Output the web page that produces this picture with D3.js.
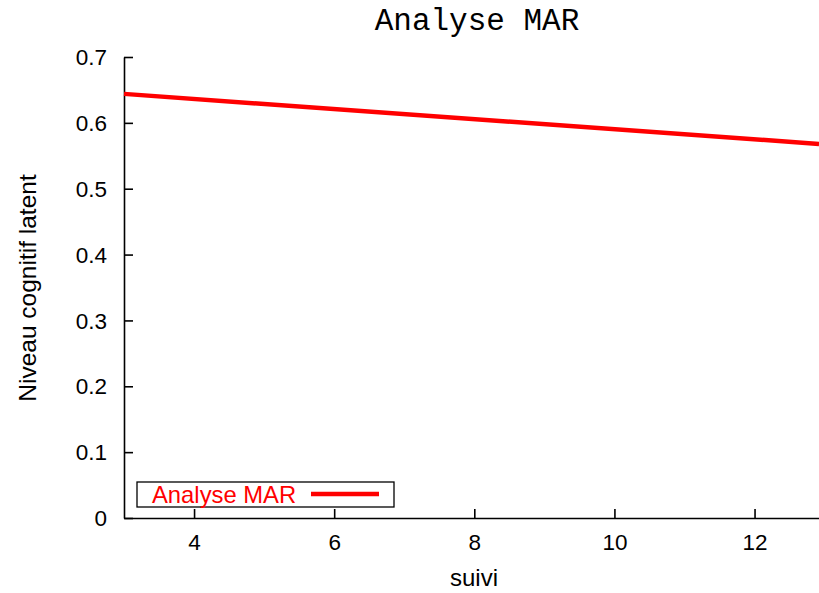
<!DOCTYPE html>
<html>
<head>
<meta charset="utf-8">
<script src="https://cdn.jsdelivr.net/npm/d3@7"></script>
<style>
  body { margin: 0; background: #fff; }
  svg { display: block; }
</style>
</head>
<body>
<svg id="chart" width="819" height="593"></svg>
<script>
// data
const suivi = [3, 12.92];
const niveau = [0.644, 0.568];
const yTicks = [0, 0.1, 0.2, 0.3, 0.4, 0.5, 0.6, 0.7];
const xTicks = [4, 6, 8, 10, 12];
const seriesName = "Analyse MAR";

const svg = d3.select("#chart");
const width = 819, height = 593;
const margin = { left: 124, right: 0, top: 57, bottom: 75 };

const x = d3.scaleLinear().domain([3, 12.92]).range([margin.left, width - margin.right]);
const y = d3.scaleLinear().domain([0, 0.7]).range([height - margin.bottom, margin.top]);

const font = "'Liberation Sans', Arial, sans-serif";
const fs = 22.5;

// y axis
const yAxis = svg.append("g")
    .attr("transform", `translate(${margin.left},0)`)
    .call(d3.axisLeft(y).tickValues(yTicks).tickSizeInner(-9).tickSizeOuter(0)
        .tickFormat(d => d === 0 ? "0" : d3.format(".1f")(d)));
yAxis.select(".domain").attr("stroke-width", 1.6);
yAxis.selectAll(".tick line").attr("stroke-width", 1.6);
yAxis.selectAll("text")
    .attr("x", -17).attr("dy", "0.34em")
    .attr("font-family", font).attr("font-size", fs).attr("fill", "#000");

// x axis
const xAxis = svg.append("g")
    .attr("transform", `translate(0,${height - margin.bottom})`)
    .call(d3.axisBottom(x).tickValues(xTicks).tickSizeInner(-9).tickSizeOuter(0));
xAxis.select(".domain").attr("stroke-width", 1.6);
xAxis.selectAll(".tick line").attr("stroke-width", 1.6);
xAxis.selectAll("text")
    .attr("y", 32).attr("dy", 0)
    .attr("font-family", font).attr("font-size", fs).attr("fill", "#000");

// line
const pts = suivi.map((s, i) => [s, niveau[i]]);
svg.append("path")
    .datum(pts)
    .attr("fill", "none")
    .attr("stroke", "#ff0000")
    .attr("stroke-width", 4.5)
    .attr("d", d3.line().x(d => x(d[0])).y(d => y(d[1])));

// title
svg.append("text")
    .attr("x", 477).attr("y", 30)
    .attr("text-anchor", "middle")
    .attr("font-family", "'Liberation Mono', 'Courier New', monospace")
    .attr("font-size", 31)
    .text(seriesName);

// axis labels
svg.append("text")
    .attr("x", 474).attr("y", 586)
    .attr("text-anchor", "middle")
    .attr("font-family", font).attr("font-size", 24)
    .text("suivi");

svg.append("text")
    .attr("transform", "translate(36,288) rotate(-90)")
    .attr("text-anchor", "middle")
    .attr("font-family", font).attr("font-size", 24.5)
    .text("Niveau cognitif latent");

// legend
const lg = svg.append("g");
lg.append("rect")
    .attr("x", 137).attr("y", 482).attr("width", 257).attr("height", 25)
    .attr("fill", "#fff").attr("stroke", "#000").attr("stroke-width", 1.3);
lg.append("text")
    .attr("x", 152).attr("y", 502.5)
    .attr("font-family", font).attr("font-size", 23.8)
    .attr("fill", "#ff0000")
    .text(seriesName);
lg.append("line")
    .attr("x1", 311).attr("x2", 379).attr("y1", 494).attr("y2", 494)
    .attr("stroke", "#ff0000").attr("stroke-width", 4.5);
</script>
</body>
</html>
